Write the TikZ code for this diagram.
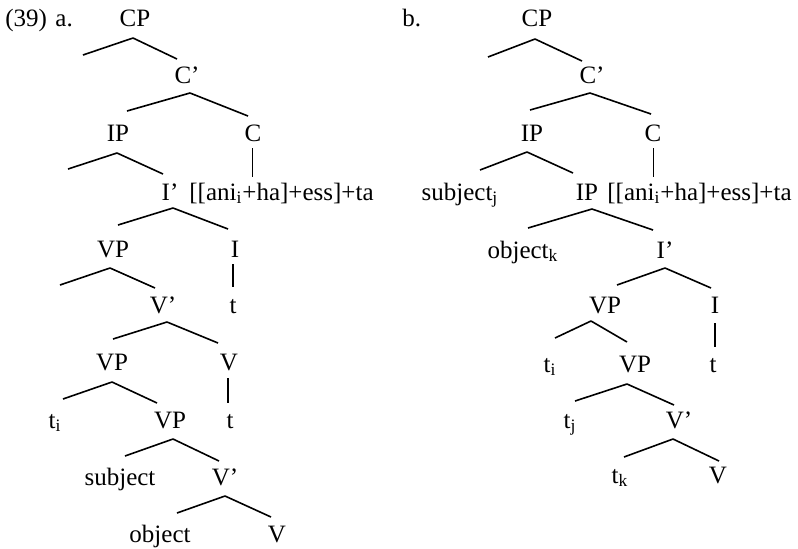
\documentclass[tikz,border=0pt]{standalone}
\usepackage{fontspec}
\setmainfont{Liberation Serif}
\tikzset{
  lbl/.style={anchor=base, inner sep=0pt, font=\fontsize{12.5}{15}\selectfont},
  branch/.style={line width=0.8pt, line join=round},
  stem/.style={line width=0.5pt}
}
\begin{document}
\begin{tikzpicture}[x=0.5pt, y=-0.5pt]
  \useasboundingbox (0,0) rectangle (798,548);
  % (39) a.
  \path[every node/.style=lbl]
    (5,26) node[anchor=base west] (anum){(39)}
    (55,26) node[anchor=base west] (alab){a.}
    (135,26) node (aCP){CP}
    (187,83) node (aCb){C’}
    (118,141) node (aIP){IP}
    (253,141) node (aC){C}
    (170,200) node (aIb){I’}
    (189,200) node[anchor=base west] (aAni){[[ani\textsubscript{i}+ha]+ess]+ta}
    (113,257) node (aVP){VP}
    (235,257) node (aI){I}
    (163,313) node (aVb){V’}
    (233,313) node (atI){t}
    (112,370) node (aVPb){VP}
    (229,370) node (aV){V}
    (55,428) node (ati){t\textsubscript{i}}
    (170,428) node (aVPc){VP}
    (230,428) node (atV){t}
    (120,485) node (asubj){subject}
    (225,485) node (aVc){V’}
    (160,542) node (aobj){object}
    (277,542) node (aVd){V};
  \path
    (133,38) coordinate (aCPt) (83,55) coordinate (aCPl) (177,59) coordinate (aCPr)
    (190,93) coordinate (aCbt) (127,111) coordinate (aCbl) (248,116) coordinate (aCbr)
    (117,153) coordinate (aIPt) (68,169) coordinate (aIPl) (163,174) coordinate (aIPr)
    (173,208) coordinate (aIbt) (118,225) coordinate (aIbl) (228,229) coordinate (aIbr)
    (110,268) coordinate (aVPt) (60,285) coordinate (aVPl) (155,288) coordinate (aVPr)
    (167,322) coordinate (aVbt) (113,339) coordinate (aVbl) (218,343) coordinate (aVbr)
    (112,382) coordinate (aVPbt) (63,399) coordinate (aVPbl) (157,403) coordinate (aVPbr)
    (173,439) coordinate (aVPct) (125,456) coordinate (aVPcl) (219,461) coordinate (aVPcr)
    (225,496) coordinate (aVct) (177,513) coordinate (aVcl) (271,517) coordinate (aVcr)
    (252,148) coordinate (aCs) (252,177) coordinate (aAnis)
    (233,264) coordinate (aIs) (233,287) coordinate (atIs)
    (228,378) coordinate (aVs) (228,403) coordinate (atVs);
  \begin{scope}[branch]
    \draw (aCPl) -- (aCPt) -- (aCPr);
    \draw (aCbl) -- (aCbt) -- (aCbr);
    \draw (aIPl) -- (aIPt) -- (aIPr);
    \draw (aIbl) -- (aIbt) -- (aIbr);
    \draw (aVPl) -- (aVPt) -- (aVPr);
    \draw (aVbl) -- (aVbt) -- (aVbr);
    \draw (aVPbl) -- (aVPbt) -- (aVPbr);
    \draw (aVPcl) -- (aVPct) -- (aVPcr);
    \draw (aVcl) -- (aVct) -- (aVcr);
    \draw (aIs) -- (atIs);
    \draw (aVs) -- (atVs);
  \end{scope}
  \draw[stem] (aCs) -- (aAnis);
  % b.
  \path[every node/.style=lbl]
    (402,26) node[anchor=base west] (blab){b.}
    (537,26) node (bCP){CP}
    (592,83) node (bCb){C’}
    (532,141) node (bIP){IP}
    (653,141) node (bC){C}
    (460,200) node (bsubj){subject\textsubscript{j}}
    (587,200) node (bIPb){IP}
    (607,200) node[anchor=base west] (bAni){[[ani\textsubscript{i}+ha]+ess]+ta}
    (523,258) node (bobj){object\textsubscript{k}}
    (665,258) node (bIb){I’}
    (605,313) node (bVP){VP}
    (715,313) node (bI){I}
    (550,372) node (bti){t\textsubscript{i}}
    (635,372) node (bVPb){VP}
    (713,372) node (btI){t}
    (570,428) node (btj){t\textsubscript{j}}
    (679,428) node (bVb){V’}
    (620,483) node (btk){t\textsubscript{k}}
    (718,483) node (bV){V};
  \path
    (535,39) coordinate (bCPt) (488,57) coordinate (bCPl) (582,61) coordinate (bCPr)
    (590,93) coordinate (bCbt) (530,110) coordinate (bCbl) (651,114) coordinate (bCbr)
    (527,152) coordinate (bIPt) (480,170) coordinate (bIPl) (573,173) coordinate (bIPr)
    (592,209) coordinate (bIPbt) (528,228) coordinate (bIPbl) (653,230) coordinate (bIPbr)
    (665,268) coordinate (bIbt) (617,285) coordinate (bIbl) (711,288) coordinate (bIbr)
    (591,321) coordinate (bVPt) (555,338) coordinate (bVPl) (627,342) coordinate (bVPr)
    (627,384) coordinate (bVPbt) (575,401) coordinate (bVPbl) (674,405) coordinate (bVPbr)
    (673,439) coordinate (bVbt) (624,457) coordinate (bVbl) (719,461) coordinate (bVbr)
    (653,148) coordinate (bCs) (653,177) coordinate (bAnis)
    (715,323) coordinate (bIs) (715,347) coordinate (btIs);
  \begin{scope}[branch]
    \draw (bCPl) -- (bCPt) -- (bCPr);
    \draw (bCbl) -- (bCbt) -- (bCbr);
    \draw (bIPl) -- (bIPt) -- (bIPr);
    \draw (bIPbl) -- (bIPbt) -- (bIPbr);
    \draw (bIbl) -- (bIbt) -- (bIbr);
    \draw (bVPl) -- (bVPt) -- (bVPr);
    \draw (bVPbl) -- (bVPbt) -- (bVPbr);
    \draw (bVbl) -- (bVbt) -- (bVbr);
    \draw (bIs) -- (btIs);
  \end{scope}
  \draw[stem] (bCs) -- (bAnis);
\end{tikzpicture}
\end{document}
